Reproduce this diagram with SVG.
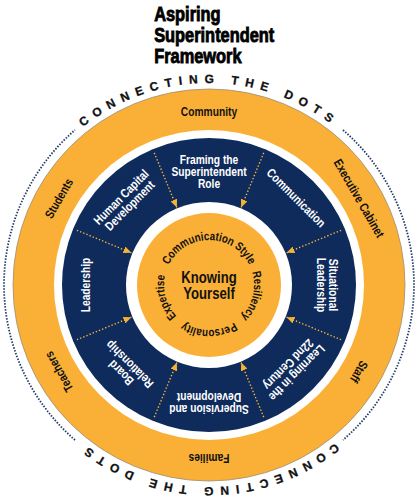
<svg xmlns="http://www.w3.org/2000/svg" width="418" height="500" viewBox="0 0 418 500">
<defs>
<style>
.t{font-family:"Liberation Sans",Arial,sans-serif;font-weight:bold;text-anchor:middle}
.title{font-family:"Liberation Sans",Arial,sans-serif;font-weight:bold;font-size:20px;fill:#000;stroke:#000;stroke-width:0.9}
.ring{font-size:12.5px;fill:#111}
.seg{font-size:12.5px;fill:#fff}
.core{font-size:12px;fill:#111}
.big{font-size:16px;fill:#111}
.dots{font-family:"Liberation Sans",sans-serif;font-weight:bold;font-size:12px;letter-spacing:6.7px;fill:#111;stroke:#111;stroke-width:0.3;text-anchor:middle}
.div{stroke:#F5B335;stroke-width:1.4;stroke-dasharray:1.4 2;fill:none}
.dotc{stroke:#243c6a;stroke-width:1.8;stroke-dasharray:1.5 1.5;fill:none}
.or{fill:#FAB036}
.nv{fill:#0E2B5C}
</style>
<marker id="ah" markerUnits="userSpaceOnUse" markerWidth="8" markerHeight="7" refX="8" refY="3.5" orient="auto"><path d="M0,0 L8,3.5 L0,7 Z" fill="#F5B335"/></marker>
<path id="topArc" d="M209,487 A202,202 0 1,1 209,83 A202,202 0 1,1 209,487"/>
<path id="botArc" d="M209,83 A202,202 0 1,1 209,487 A202,202 0 1,1 209,83"/>
<path id="coreArc" d="M177.18,316.82 A45,45 0 1,1 240.82,253.18 A45,45 0 1,1 177.18,316.82"/>
</defs>

<g id="title" transform="scale(0.82 1)">
<text class="title" x="188" y="21">Aspiring</text>
<text class="title" x="188" y="42">Superintendent</text>
<text class="title" x="188" y="63">Framework</text>
</g>

<g id="outer-ring">
<circle class="or" cx="209" cy="285" r="196" stroke="#9a8f7a" stroke-width="0.8"/>
<circle cx="209" cy="285" r="155" fill="#fff"/>
</g>

<g id="connecting-the-dots">
<path class="dotc" d="M75,440 A205,205 0 0 1 4,285 A205,205 0 0 1 75,130"/>
<path class="dotc" d="M343,130 A205,205 0 0 1 414,285 A205,205 0 0 1 343,440"/>
<text class="dots"><textPath href="#topArc" startOffset="50%">CONNECTING THE DOTS</textPath></text>
<text class="dots"><textPath href="#botArc" startOffset="50%">CONNECTING THE DOTS</textPath></text>
</g>

<g id="label-community"><text class="t ring" transform="translate(209 285) rotate(0) scale(0.82 1)" y="-169">Community</text></g>
<g id="label-executive-cabinet"><text class="t ring" transform="translate(209 285) rotate(60) scale(0.82 1)" y="-169">Executive Cabinet</text></g>
<g id="label-staff"><text class="t ring" transform="translate(209 285) rotate(120) scale(0.82 1)" y="-169">Staff</text></g>
<g id="label-families"><text class="t ring" transform="translate(209 285) rotate(180) scale(0.82 1)" y="-169">Families</text></g>
<g id="label-teachers"><text class="t ring" transform="translate(209 285) rotate(240) scale(0.82 1)" y="-169">Teachers</text></g>
<g id="label-students"><text class="t ring" transform="translate(209 285) rotate(300) scale(0.82 1)" y="-169">Students</text></g>

<g id="middle-ring">
<circle class="nv" cx="209" cy="285" r="147"/>
</g>
<g id="seg-framing"><text class="t seg" transform="translate(209 285) rotate(0) scale(0.82 1)"><tspan x="0" y="-121">Framing the</tspan><tspan x="0" y="-109">Superintendent</tspan><tspan x="0" y="-97">Role</tspan></text></g>
<g id="seg-communication"><text class="t seg" transform="translate(209 285) rotate(45) scale(0.82 1)" y="-119">Communication</text></g>
<g id="seg-situational"><text class="t seg" transform="translate(209 285) rotate(90) scale(0.82 1)"><tspan x="0" y="-120">Situational</tspan><tspan x="0" y="-108">Leadership</tspan></text></g>
<g id="seg-learning"><text class="t seg" transform="translate(209 285) rotate(135) scale(0.82 1)"><tspan x="0" y="-120">Learning in the</tspan><tspan x="0" y="-108">22nd Century</tspan></text></g>
<g id="seg-supervision"><text class="t seg" transform="translate(209 285) rotate(180) scale(0.82 1)"><tspan x="0" y="-120">Supervision and</tspan><tspan x="0" y="-108">Development</tspan></text></g>
<g id="seg-board"><text class="t seg" transform="translate(209 285) rotate(225) scale(0.82 1)"><tspan x="0" y="-120">Board</tspan><tspan x="0" y="-108">Relationship</tspan></text></g>
<g id="seg-leadership"><text class="t seg" transform="translate(209 285) rotate(270) scale(0.82 1)" y="-119">Leadership</text></g>
<g id="seg-human-capital"><text class="t seg" transform="translate(209 285) rotate(315) scale(0.82 1)"><tspan x="0" y="-120">Human Capital</tspan><tspan x="0" y="-108">Development</tspan></text></g>

<g id="connectors">
<line class="div" x1="263.72" y1="152.89" x2="241.15" y2="207.39" marker-end="url(#ah)"/>
<line class="div" x1="341.11" y1="230.28" x2="286.61" y2="252.85" marker-end="url(#ah)"/>
<line class="div" x1="341.11" y1="339.72" x2="286.61" y2="317.15" marker-end="url(#ah)"/>
<line class="div" x1="263.72" y1="417.11" x2="241.15" y2="362.61" marker-end="url(#ah)"/>
<line class="div" x1="154.28" y1="417.11" x2="176.85" y2="362.61" marker-end="url(#ah)"/>
<line class="div" x1="76.89" y1="339.72" x2="131.39" y2="317.15" marker-end="url(#ah)"/>
<line class="div" x1="76.89" y1="230.28" x2="131.39" y2="252.85" marker-end="url(#ah)"/>
<line class="div" x1="154.28" y1="152.89" x2="176.85" y2="207.39" marker-end="url(#ah)"/>
</g>

<g id="core">
<circle cx="209" cy="285" r="83" fill="#fff"/>
<circle class="or" cx="209" cy="285" r="72"/>
<text class="t big" transform="translate(209 0) scale(0.82 1)"><tspan x="0" y="283.5">Knowing</tspan><tspan x="0" y="299.5">Yourself</tspan></text>
<text class="t core"><textPath href="#coreArc" startOffset="37.5%" textLength="100" lengthAdjust="spacingAndGlyphs">Communication Style</textPath></text>
<text class="t core"><textPath href="#coreArc" startOffset="66.4%" textLength="48" lengthAdjust="spacingAndGlyphs">Resiliency</textPath></text>
<text class="t core"><textPath href="#coreArc" startOffset="87.5%" textLength="53" lengthAdjust="spacingAndGlyphs">Personality</textPath></text>
<text class="t core"><textPath href="#coreArc" startOffset="8.1%" textLength="44" lengthAdjust="spacingAndGlyphs">Expertise</textPath></text>
</g>
</svg>
